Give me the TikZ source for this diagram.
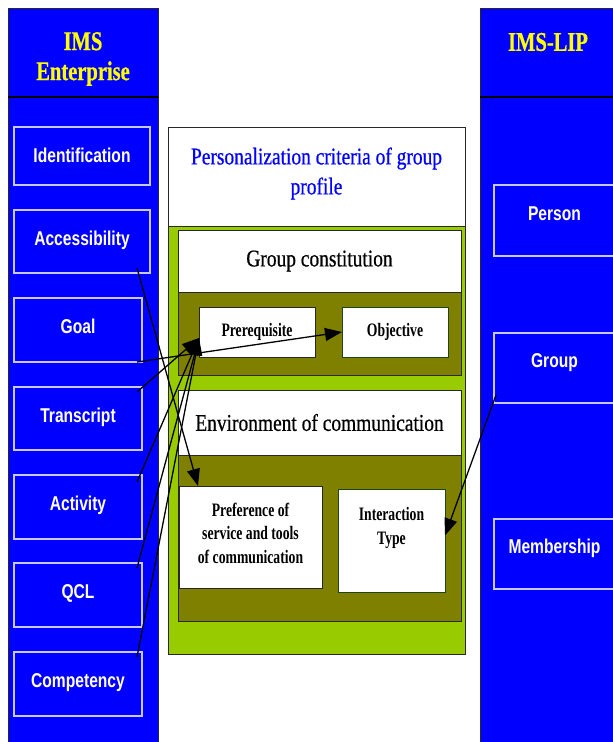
\documentclass[tikz,border=0pt]{standalone}
\usepackage{fontspec}
\setmainfont{Liberation Serif}
\newfontfamily\serifnarrow[FakeStretch=0.81,FakeBold=0.6]{Liberation Serif}
\newfontfamily\serifbold[FakeStretch=0.72]{Liberation Serif}
\newfontfamily\headfont[FakeStretch=0.76,FakeBold=0.6]{Liberation Serif}
\newfontfamily\labelfont[FakeStretch=0.78]{Liberation Sans}
\usetikzlibrary{arrows.meta}

\definecolor{panelblue}{RGB}{0,0,255}
\definecolor{limegreen}{RGB}{153,204,0}
\definecolor{olivefill}{RGB}{128,128,0}
\definecolor{headyellow}{RGB}{255,255,0}
\definecolor{boxedge}{RGB}{200,200,255}
\definecolor{darkedge}{RGB}{40,40,40}
\definecolor{objedge}{RGB}{30,70,30}

\tikzset{
  column/.style={draw=darkedge, line width=0.9pt, fill=panelblue},
  headtext/.style={text=headyellow, align=center,
    font=\headfont\bfseries\fontsize{27}{30}\selectfont},
  lbox/.style={draw=boxedge, line width=1.3pt, fill=panelblue, text=white,
    anchor=north west, inner sep=0pt, outer sep=0pt,
    text height=15pt, text depth=8pt,
    font=\labelfont\bfseries\fontsize{20}{22}\selectfont},
  rbox/.style={lbox, text depth=16pt},
  wbox/.style={draw=darkedge, line width=0.8pt, fill=white,
    anchor=north west, inner sep=0pt, outer sep=0pt, align=center},
  bigserif/.style={font=\serifnarrow\fontsize{24}{30}\selectfont},
  smallbold/.style={font=\serifbold\bfseries\fontsize{19}{23.5}\selectfont, align=center},
  conn/.style={draw=black, line width=1.3pt, -{Triangle[length=17pt,width=13pt]}},
}

\begin{document}
\begin{tikzpicture}[x=1pt,y=-1pt]
\clip (0,0) rectangle (613,742);
\fill[white] (0,0) rectangle (613,742);

% side columns
\draw[column] (8,8) rectangle (158,750);
\draw[black, line width=1.2pt] (8,97) -- (158,97);
\draw[column] (480,8) rectangle (620,750);
\draw[black, line width=1.2pt] (480,97) -- (620,97);
\node[headtext] (lhead) at (83,59) {IMS\\Enterprise};
\node[headtext] (rhead) at (548,42) {IMS-LIP};

% IMS Enterprise elements
\node[lbox, text depth=3pt, minimum width=136pt, minimum height=58pt] (ident) at (14,127) {Identification};
\node[lbox, minimum width=136pt, minimum height=63pt] (acc)   at (14,210) {Accessibility};
\node[lbox, minimum width=128pt, minimum height=64pt] (goal)  at (14,298) {Goal};
\node[lbox, minimum width=128pt, minimum height=63pt] (trans) at (14,387) {Transcript};
\node[lbox, minimum width=128pt, minimum height=64pt] (act)   at (14,475) {Activity};
\node[lbox, minimum width=128pt, minimum height=64pt] (qcl)   at (14,563) {QCL};
\node[lbox, minimum width=128pt, minimum height=64pt] (comp)  at (14,652) {Competency};

% IMS-LIP elements
\node[rbox, minimum width=121pt, minimum height=71pt] (person) at (494,185) {Person};
\node[rbox, minimum width=121pt, minimum height=70pt] (group)  at (494,333) {Group};
\node[rbox, minimum width=121pt, minimum height=70pt] (memb)   at (494,519) {Membership};

% group profile criteria
\node[wbox, minimum width=297pt, minimum height=99pt] (title) at (168,127) {};
\node[bigserif, text=panelblue, align=center] (titletext) at ([yshift=3pt]title.center)
  {Personalization criteria of group\\profile};
\draw[darkedge, line width=0.8pt, fill=limegreen] (168,226) rectangle (465,654);

\node[wbox, bigserif, minimum width=283pt, minimum height=62pt] (gc) at (178,230) {Group constitution};
\draw[darkedge, line width=0.8pt, fill=olivefill] (178,292) rectangle (461,375);
\node[wbox, smallbold, minimum width=116pt, minimum height=50pt] (prereq) at (199,307) {Prerequisite};
\node[wbox, smallbold, draw=objedge, minimum width=106pt, minimum height=50pt] (obj) at (342,307) {Objective};

\node[wbox, bigserif, minimum width=283pt, minimum height=65pt] (env) at (178,390) {Environment of communication};
\draw[darkedge, line width=0.8pt, fill=olivefill] (178,455) rectangle (461,621);
\node[wbox, minimum width=143pt, minimum height=102pt] (pref) at (179,486) {};
\node[smallbold] (preftext) at ([yshift=-47pt]pref.north)
  {Preference of\\service and tools\\of communication};
\node[wbox, draw=objedge, minimum width=107pt, minimum height=103pt] (inter) at (338,489) {};
\node[smallbold] (intertext) at ([yshift=-39pt]inter.north) {Interaction\\Type};

% mappings
\draw[conn] ([xshift=-13pt,yshift=5pt]acc.south east) -- ([xshift=19pt]pref.north west);
\draw[conn] ([xshift=-5pt]goal.south east) -- (obj.west);
\draw[conn] ([xshift=-5pt,yshift=-5pt]trans.north east) -- ([yshift=-6pt]prereq.west);
\draw[conn] ([xshift=-5pt,yshift=-7pt]act.north east) -- ([yshift=-6pt]prereq.west);
\draw[conn] ([xshift=-5pt,yshift=-5pt]qcl.north east) -- ([yshift=-6pt]prereq.west);
\draw[conn] ([xshift=-5pt,yshift=-5pt]comp.north east) -- ([yshift=-6pt]prereq.west);
\draw[conn] ([xshift=2pt,yshift=8pt]group.south west) -- ([yshift=5pt]inter.east);
\end{tikzpicture}
\end{document}
